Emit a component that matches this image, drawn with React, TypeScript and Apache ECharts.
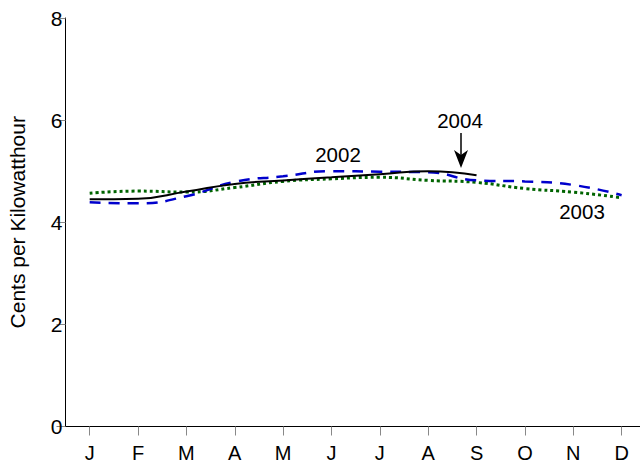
import React, { useEffect, useRef } from "react";
import * as echarts from "echarts";

const months = ["J", "F", "M", "A", "M", "J", "J", "A", "S", "O", "N", "D"];
const yTicks = [0, 2, 4, 6, 8];
const values2002 = [4.39, 4.37, 4.51, 4.79, 4.9, 5.0, 4.99, 4.98, 4.82, 4.8, 4.73, 4.53];
const values2003 = [4.57, 4.61, 4.59, 4.68, 4.8, 4.85, 4.88, 4.82, 4.78, 4.66, 4.59, 4.48];
const values2004 = [4.45, 4.46, 4.6, 4.75, 4.82, 4.88, 4.94, 5.0, 4.92];
const seriesNames = ["2002", "2003", "2004"];
const yAxisTitle = "Cents per Kilowatthour";

const FONT = "'Liberation Sans', Arial, Helvetica, sans-serif";

const monthPositions = months.map((_, i) => i + 1);
const toPairs = (vals: number[]) => vals.map((v, i) => [i + 1, v]);

export default function App() {
  const ref = useRef<HTMLDivElement>(null);
  useEffect(() => {
    if (!ref.current) return;
    const chart = echarts.init(ref.current, undefined, { renderer: "svg" });
    chart.setOption({
      animation: false,
      backgroundColor: "#ffffff",
      textStyle: { fontFamily: FONT },
      grid: {
        left: 65.5,
        right: 0,
        top: 18,
        bottom: 39.5,
        containLabel: false,
        outerBoundsMode: "none",
      },
      xAxis: {
        type: "value",
        min: 0.5,
        max: 12.38,
        axisLine: { show: true, onZero: false, lineStyle: { color: "#000", width: 1 } },
        axisTick: { show: true, customValues: monthPositions, length: 9, lineStyle: { color: "#888" } },
        axisLabel: {
          customValues: monthPositions,
          color: "#000",
          fontSize: 20,
          margin: 16,
          fontFamily: FONT,
          formatter: (v: number) => months[Math.round(v) - 1] ?? "",
        },
        splitLine: { show: false },
      },
      yAxis: {
        type: "value",
        min: yTicks[0],
        max: yTicks[yTicks.length - 1],
        interval: 2,
        name: yAxisTitle,
        nameLocation: "middle",
        nameGap: 38,
        nameRotate: 90,
        nameTextStyle: { color: "#000", fontSize: 21, fontFamily: FONT },
        axisLine: { show: true, lineStyle: { color: "#000", width: 1 } },
        axisTick: { show: true, length: 9, lineStyle: { color: "#888" } },
        axisLabel: { color: "#000", fontSize: 21, margin: 3, fontFamily: FONT },
        splitLine: { show: false },
      },
      series: [
        {
          name: seriesNames[0],
          type: "line",
          data: toPairs(values2002),
          smooth: true,
          symbol: "none",
          lineStyle: { color: "#0000cc", width: 2.5, type: [11, 8] },
          z: 2,
        },
        {
          name: seriesNames[1],
          type: "line",
          data: toPairs(values2003),
          smooth: true,
          symbol: "none",
          lineStyle: { color: "#006400", width: 3, type: [3, 3] },
          z: 1,
        },
        {
          name: seriesNames[2],
          type: "line",
          data: toPairs(values2004),
          smooth: true,
          symbol: "none",
          lineStyle: { color: "#000000", width: 2 },
          z: 3,
        },
      ],
      graphic: [
        {
          type: "text",
          x: 338,
          y: 154,
          style: { text: seriesNames[0], fontSize: 20.5, fontFamily: FONT, fill: "#000", align: "center", verticalAlign: "middle" },
        },
        {
          type: "text",
          x: 460,
          y: 120.5,
          style: { text: seriesNames[2], fontSize: 20.5, fontFamily: FONT, fill: "#000", align: "center", verticalAlign: "middle" },
        },
        {
          type: "text",
          x: 582,
          y: 211,
          style: { text: seriesNames[1], fontSize: 20.5, fontFamily: FONT, fill: "#000", align: "center", verticalAlign: "middle" },
        },
        {
          type: "line",
          shape: { x1: 461, y1: 133, x2: 461, y2: 158 },
          style: { stroke: "#000", lineWidth: 1.5 },
        },
        {
          type: "polygon",
          shape: { points: [[454, 150], [461, 168], [468, 150], [461, 155]] },
          style: { fill: "#000" },
        },
      ],
    });
    return () => chart.dispose();
  }, []);
  return (
    <div
      ref={ref}
      style={{ position: "absolute", left: 0, top: 0, width: 640, height: 466, background: "#fff" }}
    />
  );
}
